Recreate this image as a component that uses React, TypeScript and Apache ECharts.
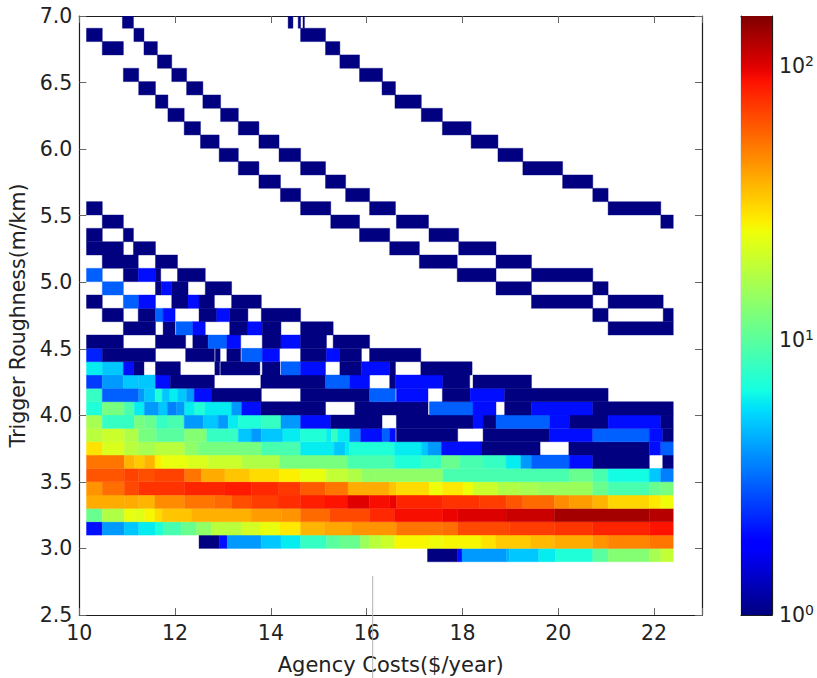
import React, { useEffect, useRef } from "react";
import * as echarts from "echarts";

const xTitle = "Agency Costs($/year)";
const yTitle = "Trigger Roughness(m/km)";
const colorMax = 152;
const rowBase = 2.9;
const rowStep = 0.1002;

// each run: [x from, x to, count]; rows run bottom to top
const r00 = [[17.27,17.9,1],[17.9,17.99,2],[17.99,18.91,4],[18.91,18.98,4.5],[18.98,19.59,5],[19.59,19.94,6],[19.94,20.72,7],[20.72,21.04,10],[21.04,21.9,13],[21.9,22.14,16],[22.14,22.4,19]];
const r01 = [[12.5,12.92,1],[12.92,13.09,2],[13.09,13.8,4],[13.8,14.21,5],[14.21,14.62,6],[14.62,15.16,8],[15.16,15.44,10],[15.44,15.87,11],[15.87,16.06,15],[16.06,16.3,18],[16.3,16.58,20],[16.58,17.3,26],[17.3,17.58,25],[17.58,18.39,26],[18.39,18.7,29],[18.7,19.43,33],[19.43,19.92,36],[19.92,20.72,39],[20.72,21.04,44],[21.04,21.9,48],[21.9,22.4,52]];
const r02 = [[10.15,10.48,2],[10.48,10.94,4],[10.94,11.24,5],[11.24,11.58,6],[11.58,11.75,7],[11.75,12.13,9],[12.13,12.45,11],[12.45,12.76,14],[12.76,13.39,18],[13.39,13.77,21],[13.77,14.18,24],[14.18,14.62,28],[14.62,15.12,37],[15.12,15.68,40],[15.68,16.62,44],[16.62,17.59,52],[17.59,17.9,54],[17.9,18.98,66],[18.98,19.92,70],[19.92,20.72,73],[20.72,21.9,80],[21.9,22.4,88]];
const r03 = [[10.15,10.48,11],[10.48,10.94,17],[10.94,11.15,24],[11.15,11.36,23],[11.36,11.58,26],[11.58,11.73,30],[11.73,12.34,34],[12.34,13.59,38],[13.59,14.22,42],[14.22,14.62,44],[14.62,15.23,55],[15.23,16.06,66],[16.06,16.58,78],[16.58,17.59,90],[17.59,17.9,95],[17.9,18.91,102],[18.91,19.92,110],[19.92,21.9,130],[21.9,22.4,120]];
const r04 = [[10.15,10.94,39],[10.94,11.24,39],[11.24,11.58,37],[11.58,12.2,46],[12.2,12.83,52],[12.83,13.18,55],[13.18,13.59,64],[13.59,14.15,70],[14.15,14.62,76],[14.62,15.13,82],[15.13,15.61,88],[15.61,16.06,100],[16.06,16.48,90],[16.48,16.62,95],[16.62,17.59,80],[17.59,18.36,74],[18.36,18.91,70],[18.91,19.26,62],[19.26,19.92,55],[19.92,20.23,46],[20.23,20.72,42],[20.72,21.04,37],[21.04,21.9,31],[21.9,22.14,28],[22.14,22.4,25]];
const r05 = [[10.15,10.48,44],[10.48,10.94,54],[10.94,11.24,66],[11.24,12.2,74],[12.2,13.04,80],[13.04,13.59,84],[13.59,14.15,78],[14.15,14.62,72],[14.62,15.14,60],[15.14,15.61,52],[15.61,16.48,39],[16.48,16.62,34],[16.62,17.31,30],[17.31,17.58,25],[17.58,18.01,28],[18.01,18.22,25],[18.22,18.74,20],[18.74,19.19,17],[19.19,19.59,16],[19.59,20.72,15],[20.72,21.04,11],[21.04,21.9,9],[21.9,22.14,11],[22.14,22.4,12]];
const r06 = [[10.15,10.94,62],[10.94,11.24,68],[11.24,11.58,64],[11.58,12.2,68],[12.2,12.55,52],[12.55,13.04,39],[13.04,13.56,34],[13.56,14.18,30],[14.18,14.62,27],[14.62,15.16,24],[15.16,15.61,19],[15.61,15.89,17],[15.89,16.17,14],[16.17,17.59,14],[17.59,20.23,9],[20.23,20.72,11],[20.72,21.04,9],[21.04,21.9,6.5],[21.9,22.14,5],[22.14,22.4,3.5]];
const r07 = [[10.15,10.94,52],[10.94,11.15,37],[11.15,11.36,33],[11.36,11.58,37],[11.58,11.72,27],[11.72,12.27,24],[12.27,12.69,22],[12.69,13.39,20],[13.39,14.18,17],[14.18,15.61,12],[15.61,16.58,9],[16.58,17.14,7],[17.14,17.56,8],[17.56,17.94,11],[17.94,18.43,9],[18.43,18.91,8],[18.91,19.22,6],[19.22,19.44,4],[19.44,20.23,3],[20.23,20.72,2],[20.72,21.9,1],[22.18,22.4,1]];
const r08 = [[10.15,10.48,29],[10.48,10.94,22],[10.94,11.24,18],[11.24,11.58,16],[11.58,12.2,18],[12.2,12.48,14],[12.48,13.8,12],[13.8,14.62,9],[14.62,15.32,6],[15.32,15.55,5],[15.55,15.645,6],[15.645,16.58,7],[16.58,17.14,6],[17.14,17.28,5],[17.28,17.56,4],[17.56,18.39,2],[18.39,19.62,1],[20.22,21.9,1],[21.9,22.14,2],[22.14,22.4,3]];
const r09 = [[10.15,10.48,18],[10.48,10.94,20],[10.94,11.24,17],[11.24,11.61,12],[11.61,12.2,10],[12.2,12.66,13],[12.66,13.32,8],[13.32,13.59,5],[13.59,13.8,4],[13.8,14.25,5],[14.25,14.62,6],[14.62,15.16,7],[15.16,15.26,6],[15.26,15.4,8],[15.4,15.645,6],[15.645,15.875,3.5],[15.875,16.32,2],[16.32,16.48,3],[16.48,16.6,2],[16.62,17.9,1],[18.43,19.82,1],[19.82,20.72,2],[20.72,21.9,3],[21.9,22.18,2],[22.18,22.4,1]];
const r10 = [[10.15,10.48,16],[10.48,11.15,8],[11.15,11.36,12],[11.36,11.61,11],[11.61,11.85,8],[11.85,12.19,9],[12.19,12.59,4],[12.59,12.9,5],[12.9,13.11,4],[13.11,13.32,6],[13.32,13.8,7],[13.8,14.21,8],[14.21,14.62,4],[14.62,15.25,2],[15.25,16.32,1],[16.62,18.22,1],[18.22,18.43,2],[18.43,18.7,1],[18.7,19.82,3],[19.82,20.23,2],[20.23,21.04,1],[21.04,22.14,2],[22.14,22.4,1]];
const r11 = [[10.15,10.48,7],[10.48,10.94,12],[10.94,11.15,9],[11.15,11.36,6],[11.36,11.66,4],[11.66,11.84,5],[11.84,12.03,3.5],[12.03,12.2,4],[12.2,12.41,6],[12.41,12.62,7],[12.62,13.18,6],[13.18,13.39,4],[13.39,13.79,2],[13.79,15.14,1],[15.75,17.28,1],[17.31,18.22,3],[18.22,18.7,2],[18.88,19.44,1],[19.44,20.72,2],[20.72,22.4,1]];
const r12 = [[10.15,10.48,8],[10.48,11.24,3],[11.24,11.36,4],[11.36,11.58,5],[11.58,11.73,7],[11.73,11.89,5],[11.89,12.06,6],[12.06,12.24,5],[12.24,12.4,4],[12.4,12.77,2],[12.77,13.8,1],[14.62,16.06,1],[16.06,16.6,3],[16.62,17.28,2],[17.58,18.16,1],[18.16,18.88,2],[18.88,21.04,1]];
const r13 = [[10.15,10.48,2.5],[10.48,10.92,4],[10.92,11.23,5],[11.23,11.59,5],[11.59,11.9,2],[11.9,12.82,1],[13.79,15.14,1],[15.14,15.645,3],[15.645,16.06,2],[16.48,16.6,1],[16.6,17.59,2],[17.59,18.15,1],[18.22,19.44,1]];
const r14 = [[10.15,10.48,6],[10.48,10.92,5],[10.92,11.13,2],[11.13,11.35,1],[11.59,12.11,1],[12.83,12.93,1],[12.95,13.77,1],[13.82,14.19,1],[14.21,14.62,3],[14.62,15.14,2],[15.44,15.89,1],[15.89,16.48,2],[16.48,16.6,1],[17.13,18.2,1]];
const r15 = [[10.15,10.48,2.2],[10.48,11.59,1],[12.22,12.82,1],[12.84,12.94,1],[13.08,13.37,1],[13.39,13.82,3],[13.82,14.18,2],[14.62,15.16,1],[15.16,15.44,2],[15.44,15.89,1],[16.06,17.13,1]];
const r16 = [[10.15,10.92,1],[11.59,12.22,1],[12.37,12.69,1],[12.69,13.08,3],[13.08,13.37,2],[13.82,14.21,1],[14.21,14.62,2],[14.62,15.16,1],[15.3,16.06,1]];
const r17 = [[10.92,11.59,1],[11.75,12.0,1],[12.02,12.37,3],[12.37,12.63,2],[13.14,13.52,1],[13.52,13.82,2],[13.82,14.21,1],[14.62,15.3,1],[21.04,22.4,1]];
const r18 = [[10.48,10.92,1],[11.23,11.59,1],[11.59,11.75,3],[11.75,12.0,2],[12.5,12.87,1],[12.87,13.14,2],[13.14,13.52,1],[13.8,14.62,1],[20.72,21.04,1],[22.19,22.4,1]];
const r19 = [[10.15,10.48,1],[10.92,11.24,3],[11.24,11.59,2],[11.93,12.27,1],[12.27,12.5,2],[12.5,12.82,1],[13.18,13.8,1],[19.44,20.72,1],[21.04,22.19,1]];
const r20 = [[10.48,10.92,3],[11.59,11.72,1],[11.72,11.93,2],[11.93,12.27,1],[12.63,13.18,1],[18.7,19.44,1],[20.72,21.04,1]];
const r21 = [[10.15,10.48,3],[10.92,11.23,1],[11.23,11.59,2],[11.59,11.7,1],[12.05,12.63,1],[17.89,18.7,1],[19.44,20.72,1]];
const r22 = [[10.48,11.23,1],[11.59,12.05,1],[17.1,17.89,1],[18.7,19.44,1]];
const r23 = [[10.15,10.92,1],[11.13,11.59,1],[16.48,17.1,1],[17.92,18.7,1]];
const r24 = [[10.15,10.48,1],[10.92,11.13,1],[15.85,16.48,1],[17.3,17.92,1]];
const r25 = [[10.48,10.92,1],[15.25,15.85,1],[16.62,17.29,1],[22.14,22.4,1]];
const r26 = [[10.15,10.48,1],[14.62,15.25,1],[16.06,16.6,1],[21.04,22.14,1]];
const r27 = [[14.2,14.62,1],[15.56,16.06,1],[20.72,21.04,1]];
const r28 = [[13.75,14.2,1],[15.14,15.56,1],[20.09,20.72,1]];
const r29 = [[13.32,13.75,1],[14.62,15.14,1],[19.26,20.09,1]];
const r30 = [[12.92,13.32,1],[14.17,14.62,1],[18.74,19.26,1]];
const r31 = [[12.53,12.92,1],[13.75,14.17,1],[18.18,18.74,1]];
const r32 = [[12.19,12.53,1],[13.32,13.75,1],[17.58,18.18,1]];
const r33 = [[11.85,12.19,1],[12.95,13.32,1],[17.14,17.58,1]];
const r34 = [[11.59,11.85,1],[12.58,12.95,1],[16.59,17.14,1]];
const r35 = [[11.24,11.59,1],[12.24,12.58,1],[16.32,16.6,1]];
const r36 = [[10.92,11.24,1],[11.93,12.24,1],[15.85,16.33,1]];
const r37 = [[11.63,11.93,1],[15.44,15.85,1]];
const r38 = [[10.48,10.92,1],[11.35,11.63,1],[15.14,15.44,1]];
const r39 = [[10.15,10.48,1],[11.14,11.35,1],[14.62,15.14,1]];
const r40 = [[10.9,11.13,1],[14.36,14.46,1],[14.57,14.62,1],[14.67,14.7,1]];

const rows = [r00,r01,r02,r03,r04,r05,r06,r07,r08,r09,r10,r11,r12,r13,r14,r15,r16,r17,r18,r19,r20,r21,r22,r23,r24,r25,r26,r27,r28,r29,r30,r31,r32,r33,r34,r35,r36,r37,r38,r39,r40];

const ramp = (t: number, pts: number[][]) => {
  for (let i = 1; i < pts.length; i++) {
    if (t <= pts[i][0]) {
      const [a, av] = pts[i - 1];
      const [b, bv] = pts[i];
      return av + ((bv - av) * (t - a)) / (b - a);
    }
  }
  return pts[pts.length - 1][1];
};
const jet = (t: number) => {
  const r = ramp(t, [[0, 0], [0.35, 0], [0.66, 1], [0.89, 1], [1, 0.5]]);
  const g = ramp(t, [[0, 0], [0.125, 0], [0.375, 1], [0.64, 1], [0.91, 0], [1, 0]]);
  const b = ramp(t, [[0, 0.5], [0.11, 1], [0.34, 1], [0.65, 0], [1, 0]]);
  return `rgb(${Math.round(r * 255)},${Math.round(g * 255)},${Math.round(b * 255)})`;
};
const colorOf = (v: number) => jet(Math.log(v) / Math.log(colorMax));

const cells = rows.flatMap((row, k) =>
  row.map(([a, b, v]) => [a, b, rowBase + k * rowStep, rowBase + (k + 1) * rowStep, v])
);

const frame = { show: true, onZero: false, lineStyle: { color: "#1c1c1c", width: 1.2 } };
const tick = { show: true, inside: true, length: 7, lineStyle: { color: "#666", width: 1 } };
const labelFont = { fontFamily: "DejaVu Sans", fontSize: 20.5, color: "#222" };

export default function App() {
  const ref = useRef<HTMLDivElement>(null);
  useEffect(() => {
    const chart = echarts.init(ref.current!, undefined, { renderer: "svg" });
    const stops = Array.from({ length: 65 }, (_, i) => ({ offset: i / 64, color: jet(1 - i / 64) }));
    chart.setOption({
      animation: false,
      backgroundColor: "#fff",
      grid: [
        { left: 79.3, top: 16, width: 622.7, height: 599, outerBoundsMode: "none" },
        { left: 741, top: 16, width: 31, height: 599, outerBoundsMode: "none" },
      ],
      xAxis: [
        {
          type: "value", gridIndex: 0, min: 10, max: 23, interval: 2, position: "bottom",
          splitLine: { show: false }, axisLine: frame, axisTick: tick,
          axisLabel: { ...labelFont, margin: 7, formatter: (v: number) => (v === 23 ? "" : String(v)) },
          name: xTitle, nameLocation: "middle", nameGap: 39,
          nameTextStyle: { ...labelFont, fontSize: 21 },
        },
        {
          type: "value", gridIndex: 0, min: 10, max: 23, interval: 2, position: "top",
          splitLine: { show: false }, axisLine: frame, axisTick: tick, axisLabel: { show: false },
        },
        {
          type: "value", gridIndex: 1, min: 0, max: 1, position: "bottom",
          splitLine: { show: false }, axisLine: frame, axisTick: { show: false }, axisLabel: { show: false },
        },
        {
          type: "value", gridIndex: 1, min: 0, max: 1, position: "top",
          splitLine: { show: false }, axisLine: frame, axisTick: { show: false }, axisLabel: { show: false },
        },
      ],
      yAxis: [
        {
          type: "value", gridIndex: 0, min: 2.5, max: 7, interval: 0.5, position: "left",
          splitLine: { show: false }, axisLine: frame, axisTick: tick,
          axisLabel: { ...labelFont, margin: 7, formatter: (v: number) => v.toFixed(1) },
          name: yTitle, nameLocation: "middle", nameGap: 49,
          nameTextStyle: { ...labelFont },
        },
        {
          type: "value", gridIndex: 0, min: 2.5, max: 7, interval: 0.5, position: "right",
          splitLine: { show: false }, axisLine: frame, axisTick: tick, axisLabel: { show: false },
        },
        {
          type: "log", logBase: 10, gridIndex: 1, min: 1, max: colorMax, position: "right",
          splitLine: { show: false }, minorTick: { show: false }, axisLine: frame,
          axisTick: { show: true, inside: true, length: 8, lineStyle: { color: "#111", width: 1 } },
          axisLabel: {
            margin: 7,
            formatter: (v: number) => {
              const e = Math.round(Math.log10(v));
              return Math.abs(Math.log10(v) - e) < 1e-6 ? `{b|10}{e|${e}}` : "";
            },
            rich: {
              b: { ...labelFont },
              e: { fontFamily: "DejaVu Sans", fontSize: 14, color: "#222", padding: [0, 0, 10, 0] },
            },
          },
        },
        {
          type: "value", gridIndex: 1, min: 0, max: 1, position: "left",
          splitLine: { show: false }, axisLine: frame, axisTick: { show: false }, axisLabel: { show: false },
        },
      ],
      series: [
        {
          type: "custom", xAxisIndex: 0, yAxisIndex: 0, clip: true, silent: true,
          encode: { x: [0, 1], y: [2, 3] },
          data: cells,
          renderItem: (_: any, api: any) => {
            const p0 = api.coord([api.value(0), api.value(3)]);
            const p1 = api.coord([api.value(1), api.value(2)]);
            const fill = colorOf(api.value(4));
            return {
              type: "rect",
              shape: { x: p0[0], y: p0[1], width: p1[0] - p0[0], height: p1[1] - p0[1] },
              style: { fill, stroke: fill, lineWidth: 0.4 },
            };
          },
        },
        {
          type: "custom", xAxisIndex: 2, yAxisIndex: 2, silent: true,
          data: [[0, 1, 1, colorMax]],
          encode: { x: [0, 1], y: [2, 3] },
          renderItem: (_: any, api: any) => {
            const p0 = api.coord([api.value(0), api.value(3)]);
            const p1 = api.coord([api.value(1), api.value(2)]);
            return {
              type: "rect",
              shape: { x: p0[0], y: p0[1], width: p1[0] - p0[0], height: p1[1] - p0[1] },
              style: { fill: new echarts.graphic.LinearGradient(0, 0, 0, 1, stops) },
            };
          },
        },
      ],
      graphic: [
        {
          type: "line", silent: true, z: 100,
          shape: { x1: 372.7, y1: 576, x2: 372.7, y2: 678 },
          style: { stroke: "#b4b4b4", lineWidth: 1 },
        },
      ],
    });
    return () => chart.dispose();
  }, []);
  return <div ref={ref} style={{ position: "fixed", left: 0, top: 0, width: 817, height: 678 }} />;
}
